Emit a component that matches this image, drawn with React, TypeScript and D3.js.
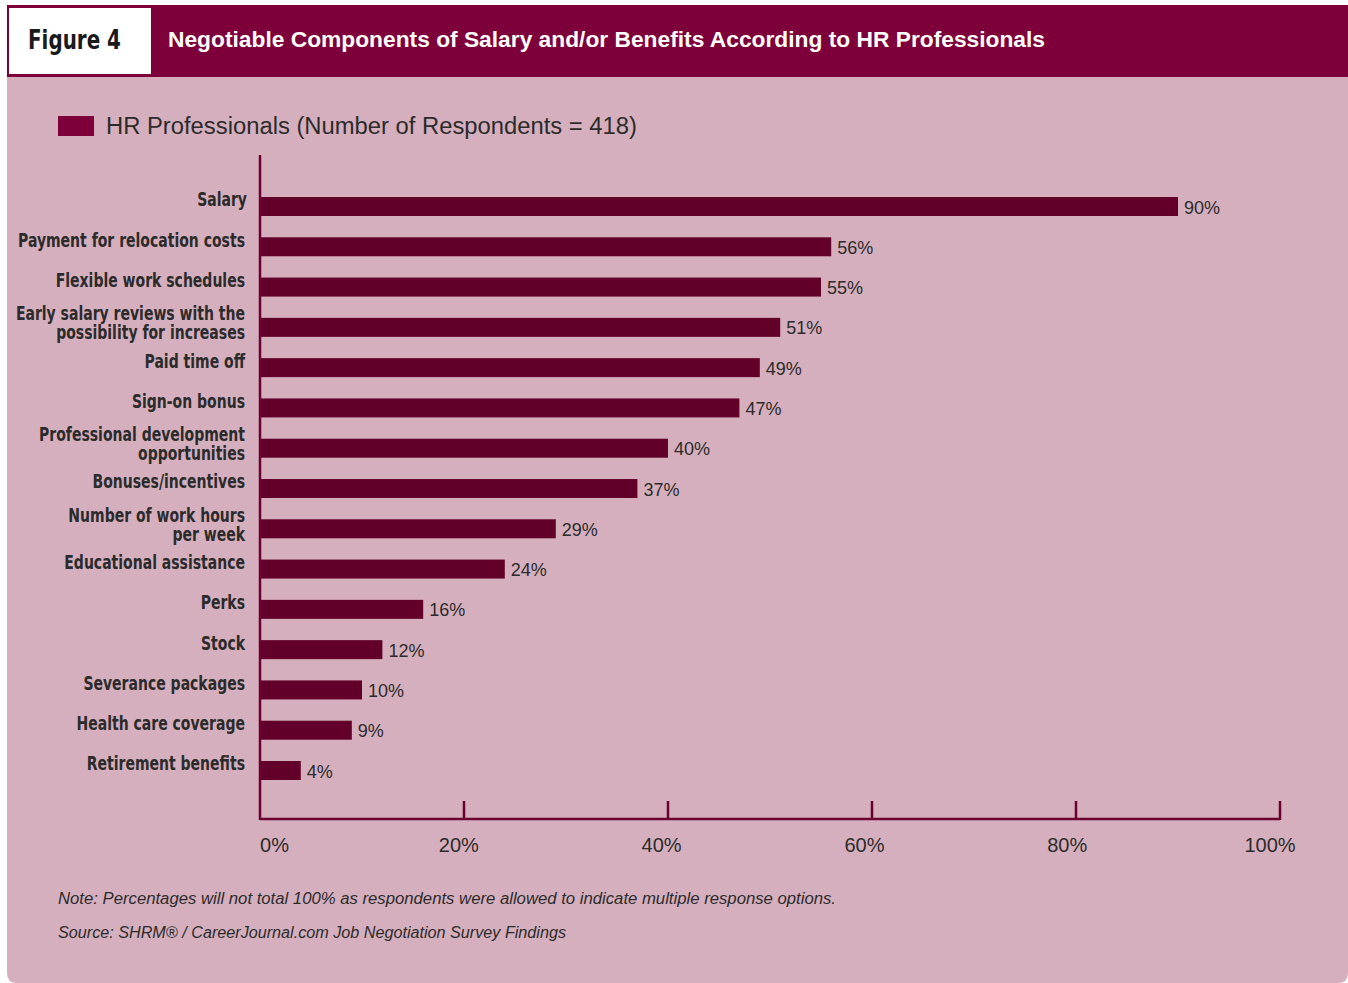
import React from "react";
import * as d3 from "d3";

const categories: string[][] = [
  ["Salary"],
  ["Payment for relocation costs"],
  ["Flexible work schedules"],
  ["Early salary reviews with the", "possibility for increases"],
  ["Paid time off"],
  ["Sign-on bonus"],
  ["Professional development", "opportunities"],
  ["Bonuses/incentives"],
  ["Number of work hours", "per week"],
  ["Educational assistance"],
  ["Perks"],
  ["Stock"],
  ["Severance packages"],
  ["Health care coverage"],
  ["Retirement benefits"],
];
const values: number[] = [90, 56, 55, 51, 49, 47, 40, 37, 29, 24, 16, 12, 10, 9, 4];
const ticks: number[] = [0, 20, 40, 60, 80, 100];
const title = "Negotiable Components of Salary and/or Benefits According to HR Professionals";
const legendLabel = "HR Professionals (Number of Respondents = 418)";
const note = "Note: Percentages will not total 100% as respondents were allowed to indicate multiple response options.";
const source = "Source: SHRM\u00AE / CareerJournal.com Job Negotiation Survey Findings";

const HEADER = "#7d003b";
const BAR = "#620029";
const BG = "#d6afbe";
const AXIS = "#6a0030";
const TEXT = "#2b2b2b";
const COND = "'DejaVu Sans Condensed', 'DejaVu Sans', sans-serif";
const SANS = "'Liberation Sans', Arial, sans-serif";

export default function App() {
  const W = 1348;
  const H = 983;
  const x = d3.scaleLinear().domain([0, 100]).range([260, 1280]);
  const idx = categories.map((_, i) => String(i));
  const y = d3.scalePoint<string>().domain(idx).range([206.5, 770.5]);
  const barH = 19;
  const sx = 0.82;

  return (
    <svg width={W} height={H} style={{ position: "absolute", left: 0, top: 0 }}>
      <rect x={0} y={0} width={W} height={H} fill="#ffffff" />
      {/* card */}
      <path d={`M7,5 H1348 V973 Q1348,983 1338,983 H17 Q7,983 7,973 Z`} fill={BG} />
      <rect x={7} y={5} width={1341} height={72} fill={HEADER} />
      <rect x={9} y={8} width={142} height={66} fill="#ffffff" />
      <g transform={`translate(28,49) scale(${sx},1)`}>
        <text x={0} y={0} fontFamily={COND} fontWeight="bold" fontSize={27} fill="#1a1a1a">
          Figure 4
        </text>
      </g>
      <text x={168} y={47} fontFamily={SANS} fontWeight="bold" fontSize={22} fill="#ffffff"
        textLength={877} lengthAdjust="spacingAndGlyphs">
        {title}
      </text>

      {/* legend */}
      <rect x={58} y={116} width={36} height={20} fill={HEADER} />
      <text x={106} y={134} fontFamily={SANS} fontSize={23} fill={TEXT}
        textLength={531} lengthAdjust="spacingAndGlyphs">
        {legendLabel}
      </text>

      {/* bars */}
      {values.map((v, i) => {
        const cy = y(String(i)) as number;
        return (
          <g key={i}>
            <rect x={x(0)} y={cy - barH / 2} width={x(v) - x(0)} height={barH} fill={BAR} />
            <text x={x(v) + 6} y={cy + 7} fontFamily={SANS} fontSize={18} fill={TEXT}>
              {v}%
            </text>
          </g>
        );
      })}

      {/* category labels */}
      {categories.map((lines, i) => {
        const cy = y(String(i)) as number;
        const base = lines.length === 1 ? cy + 0 : cy - 7;
        const ax = i === 0 ? 247 : 245;
        return (
          <g key={i} transform={`translate(${ax},0) scale(${sx},1)`}>
            <text textAnchor="end" fontFamily={COND} fontWeight="bold" fontSize={19} fill={TEXT}>
              {lines.map((l, j) => (
                <tspan key={j} x={0} y={base + j * 19}>
                  {l}
                </tspan>
              ))}
            </text>
          </g>
        );
      })}

      {/* axes */}
      <line x1={x(0)} x2={x(0)} y1={155} y2={820} stroke={AXIS} strokeWidth={2.5} />
      <line x1={x(0)} x2={x(100)} y1={819} y2={819} stroke={AXIS} strokeWidth={2.5} />
      {ticks.slice(1).map((t) => (
        <line key={t} x1={x(t)} x2={x(t)} y1={801} y2={820} stroke={AXIS} strokeWidth={2.5} />
      ))}
      {ticks.map((t, i) => (
        <text
          key={t}
          x={i === 0 ? x(t) : x(t) - 4 - t * 0.06}
          y={852}
          textAnchor={i === 0 ? "start" : "middle"}
          fontFamily={SANS}
          fontSize={20}
          fill={TEXT}
        >
          {t}%
        </text>
      ))}

      {/* notes */}
      <text x={58} y={904} fontFamily={SANS} fontStyle="italic" fontSize={16} fill={TEXT}
        textLength={778} lengthAdjust="spacingAndGlyphs">
        {note}
      </text>
      <text x={58} y={938} fontFamily={SANS} fontStyle="italic" fontSize={16} fill={TEXT}
        textLength={508} lengthAdjust="spacingAndGlyphs">
        {source}
      </text>
    </svg>
  );
}
